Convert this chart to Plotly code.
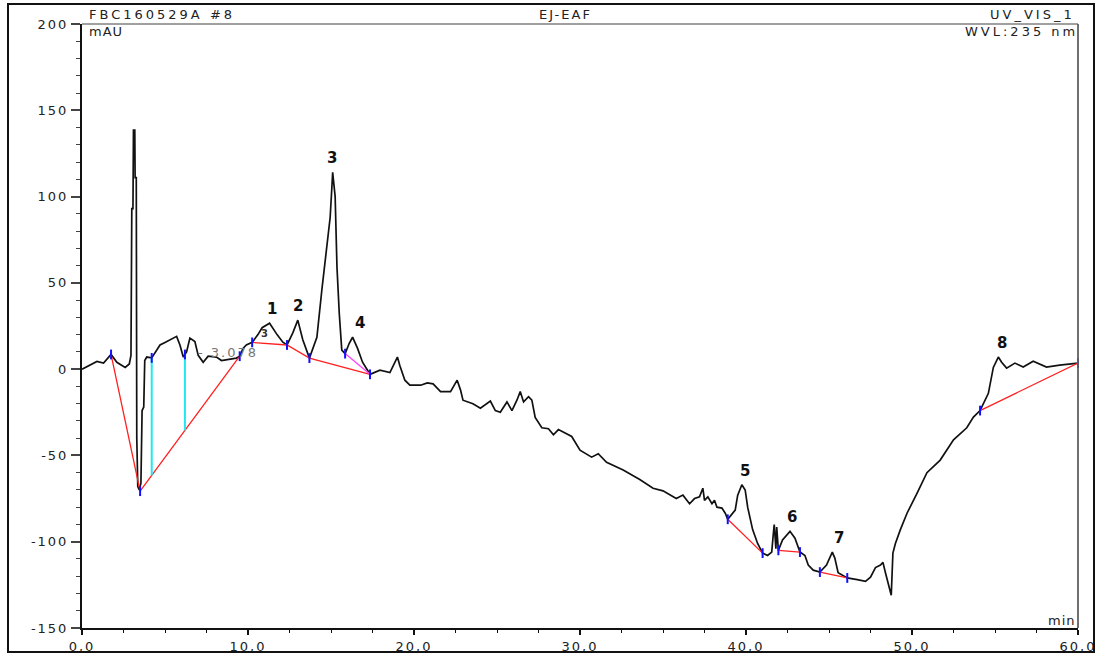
import numpy as np
import plotly.graph_objects as go

# ---------------- data ----------------
time_min = [0.00, 0.50, 0.90, 1.30, 1.75, 2.10, 2.60, 2.85, 2.95, 3.00, 3.07, 3.10, 3.18, 3.20, 3.27,
            3.30, 3.36, 3.45, 3.55, 3.62, 3.72, 3.78, 3.90, 4.20, 4.45, 4.70, 5.00, 5.30, 5.70, 5.90,
            6.10, 6.30, 6.50, 6.80, 7.00, 7.30, 7.60, 8.10, 8.40, 9.30, 9.50, 9.70, 9.90, 10.25, 10.60,
            10.85, 11.30, 11.75, 12.10, 12.35, 12.70, 13.00, 13.30, 13.70, 14.15, 14.45, 14.75, 14.95,
            15.05, 15.10, 15.25, 15.36, 15.50, 15.65, 15.85, 16.10, 16.30, 16.60, 16.90, 17.35, 17.95,
            18.55, 19.00, 19.15, 19.45, 19.75, 20.40, 20.80, 21.15, 21.60, 22.20, 22.60, 22.80, 22.95,
            23.55, 24.00, 24.60, 24.90, 25.20, 25.60, 25.90, 26.20, 26.40, 26.60, 26.90, 27.10, 27.30,
            27.70, 28.10, 28.40, 28.70, 29.50, 30.00, 30.70, 31.10, 31.60, 32.60, 33.60, 34.40, 35.00,
            35.80, 36.20, 36.60, 36.90, 37.20, 37.40, 37.50, 37.70, 37.95, 38.10, 38.25, 38.55, 38.75,
            38.90, 39.35, 39.50, 39.75, 39.95, 40.10, 40.40, 40.70, 41.00, 41.30, 41.55, 41.65, 41.70,
            41.80, 41.85, 41.95, 42.20, 42.65, 42.95, 43.25, 43.55, 43.75, 44.05, 44.45, 44.85, 45.20,
            45.35, 45.55, 46.10, 46.70, 47.20, 47.50, 47.80, 48.10, 48.25, 48.40, 48.55, 48.75, 48.85,
            49.00, 49.30, 49.70, 50.30, 50.90, 51.70, 52.50, 53.30, 53.70, 54.10, 54.60, 54.90, 55.20,
            55.40, 55.70, 56.20, 56.70, 57.30, 58.10, 58.90, 59.50, 60.00]
signal_mau = [0.0, 2.5, 4.5, 3.5, 8.5, 4.0, 1.0, 3.0, 8.0, 93.0, 93.0, 138.5, 138.5, 111.0, 111.0,
              -40.0, -68.0, -70.0, -66.0, -24.0, -22.0, 5.0, 7.0, 6.5, 10.0, 14.0, 15.5, 17.0, 19.0, 14.0,
              7.0, 10.0, 18.0, 16.0, 8.0, 4.0, 7.5, 7.0, 5.0, 6.4, 7.5, 12.0, 14.0, 15.5, 20.0,
              24.0, 26.6, 20.0, 15.6, 14.0, 21.0, 28.4, 17.0, 6.4, 18.5, 46.0, 71.0, 88.0,
              105.0, 114.0, 100.0, 59.0, 32.0, 11.0, 9.0, 15.0, 18.5, 12.0, 4.0, -3.0, -0.6,
              -2.0, 7.0, 2.0, -6.4, -9.3, -9.3, -8.0, -8.5, -13.0, -13.0, -6.4, -12.0, -18.0,
              -20.0, -22.6, -18.5, -24.0, -25.0, -19.0, -24.0, -18.0, -13.0, -19.0, -16.0, -18.0, -28.0,
              -34.0, -34.5, -38.0, -35.0, -39.0, -47.0, -51.0, -49.0, -54.0, -58.5, -64.0, -69.0, -70.5,
              -75.0, -73.0, -78.0, -75.0, -74.0, -69.0, -76.0, -74.0, -78.0, -76.0, -80.0, -80.5, -83.5,
              -87.0, -81.7, -73.0, -67.0, -70.0, -80.0, -93.0, -101.0, -106.6, -108.0, -106.0, -95.0, -90.0,
              -104.0, -91.5, -105.0, -99.0, -94.0, -98.0, -106.0, -108.0, -113.5, -116.5, -117.6, -113.5, -106.0,
              -109.5, -118.0, -121.0, -122.0, -123.0, -120.5, -115.0, -113.5, -112.0, -118.0, -124.0, -131.0, -106.6,
              -101.0, -93.0, -83.5, -72.0, -60.0, -52.7, -41.0, -34.0, -27.8, -24.0, -14.0, 1.0, 7.0,
              4.0, 0.6, 3.5, 1.2, 4.6, 1.2, 2.3, 3.0, 3.5]

# integration baselines (red), segments
baseline_t = [[1.75, 3.50, 9.50], [10.25, 12.35, 13.70, 17.35], [38.90, 41.00],
              [41.95, 43.25], [44.45, 46.10], [54.10, 60.00]]
baseline_v = [[8.5, -70.7, 7.5], [15.5, 14.0, 6.4, -3.0], [-87.0, -106.6],
              [-105.0, -106.0], [-117.6, -121.0], [-24.0, 3.5]]
skim_t = [15.85, 17.35]
skim_v = [9.0, -3.0]
drop_t = [4.20, 6.20]          # cyan drop lines
extra_marks_t = [4.20, 6.20, 15.85]

peak_labels = ["1", "2", "3", "4", "5", "6", "7", "8"]
peak_label_t = [11.45, 13.0, 15.05, 16.75, 39.95, 42.8, 45.6, 55.4]
peak_apex_t = [11.30, 13.00, 15.10, 16.30, 39.75, 42.65, 45.20, 55.20]

x_tickvals = [0, 10, 20, 30, 40, 50, 60]
x_ticktext = ["0,0", "10,0", "20,0", "30,0", "40,0", "50,0", "60,0"]
y_tickvals = [-150, -100, -50, 0, 50, 100, 150, 200]
y_ticktext = ["-150", "-100", "-50", "0", "50", "100", "150", "200"]

# ---------------- figure ----------------
W, H = 1101, 657
L, R, T, B = 82, 1078, 24, 628
FONT = "DejaVu Sans"


def px(xp):
    return (xp - L) / (R - L)


def py(yp):
    return (B - yp) / (B - T)


def wide(s, sp=1.5):
    return '<span style="letter-spacing:%.1fpx">%s</span>' % (sp, s)


fig = go.Figure()

fig.add_trace(go.Scatter(x=time_min, y=signal_mau, mode="lines",
                         line=dict(color="#111111", width=1.7), hoverinfo="skip"))

bx, by = [], []
for ts, vs in zip(baseline_t, baseline_v):
    bx += ts + [None]
    by += vs + [None]
fig.add_trace(go.Scatter(x=bx, y=by, mode="lines", line=dict(color="#ff2020", width=1.3),
                         hoverinfo="skip"))
fig.add_trace(go.Scatter(x=skim_t, y=skim_v, mode="lines", line=dict(color="#ff40ff", width=1.3),
                         hoverinfo="skip"))

b0t = np.array(baseline_t[0])
b0v = np.array(baseline_v[0])
dx, dy = [], []
for t in drop_t:
    top = float(np.interp(t, time_min, signal_mau))
    bot = float(np.interp(t, b0t, b0v))
    dx += [t, t, None]
    dy += [top, bot, None]
fig.add_trace(go.Scatter(x=dx, y=dy, mode="lines", line=dict(color="#20e8f0", width=2),
                         hoverinfo="skip"))

mx, my = [], []
for ts, vs in zip(baseline_t, baseline_v):
    mx += ts
    my += vs
for t in extra_marks_t:
    mx.append(t)
    my.append(float(np.interp(t, time_min, signal_mau)))
fig.add_trace(go.Scatter(x=mx, y=my, mode="markers",
                         marker=dict(symbol="line-ns", size=7, line=dict(color="#1010ff", width=2)),
                         hoverinfo="skip", cliponaxis=False))

annotations = []
for lab, lt, at in zip(peak_labels, peak_label_t, peak_apex_t):
    apex = float(np.interp(at, time_min, signal_mau))
    annotations.append(dict(x=lt, y=apex, xref="x", yref="y", text="<b>%s</b>" % lab,
                            showarrow=False, yanchor="bottom", yshift=3,
                            font=dict(family=FONT, size=15, color="#111111")))
annotations.append(dict(x=px(259), y=py(333), xref="paper", yref="paper", text="<b>3</b>",
                        showarrow=False, font=dict(family=FONT, size=10, color="#333333")))
annotations.append(dict(x=px(196), y=py(352), xref="paper", yref="paper", text=wide("- 3.078", 2),
                        showarrow=False, font=dict(family=FONT, size=13, color="#777777")))

hdr = dict(family=FONT, size=13, color="#222222")
annotations += [
    dict(x=px(87), y=py(15), text=wide("FBC160529A #8", 3), xanchor="left"),
    dict(x=px(565), y=py(15), text=wide("EJ-EAF", 2), xanchor="center"),
    dict(x=px(1077), y=py(15), text=wide("UV_VIS_1", 3), xanchor="right"),
    dict(x=px(87), y=py(31), text=wide("mAU", 1), xanchor="left"),
    dict(x=px(1080), y=py(31), text=wide("WVL:235 nm", 3), xanchor="right"),
    dict(x=px(1078), y=py(620), text=wide("min", 1), xanchor="right"),
]
for a in annotations[-6:]:
    a.update(xref="paper", yref="paper", showarrow=False, yanchor="middle", font=hdr)

shapes = [
    dict(type="rect", xref="paper", yref="paper", x0=px(8), x1=px(1094), y0=py(4), y1=py(652),
         line=dict(color="#111111", width=2)),
    dict(type="line", xref="paper", yref="paper", x0=0, x1=1, y0=1, y1=1,
         line=dict(color="#808080", width=1.5)),
    dict(type="line", xref="paper", yref="paper", x0=1, x1=1, y0=0, y1=1,
         line=dict(color="#606060", width=1.8)),
]

fig.update_layout(
    template="none",
    width=W, height=H, autosize=False,
    margin=dict(l=L, r=W - R, t=T, b=H - B, pad=0),
    paper_bgcolor="white", plot_bgcolor="white",
    showlegend=False,
    annotations=annotations, shapes=shapes,
    font=dict(family=FONT, size=14, color="#222222"),
    xaxis=dict(range=[0, 60], automargin=False, showgrid=False, zeroline=False, showline=True,
               linecolor="#111111", linewidth=2, ticks="outside", ticklen=5, tickwidth=1.5,
               tickcolor="#111111", tickvals=x_tickvals, ticktext=[wide(s, 2) for s in x_ticktext],
               tickfont=dict(family=FONT, size=13, color="#222222"),
               minor=dict(dtick=2.5, ticklen=3, ticks="outside", tickcolor="#111111", tickwidth=1.2)),
    yaxis=dict(range=[-150, 200], automargin=False, showgrid=False, zeroline=False, showline=True,
               linecolor="#111111", linewidth=2, ticks="outside", ticklen=9, tickwidth=1.5,
               tickcolor="#444444", tickvals=y_tickvals, ticktext=[wide(s, 2) for s in y_ticktext],
               tickfont=dict(family=FONT, size=13, color="#222222"),
               minor=dict(dtick=10, ticklen=4, ticks="outside", tickcolor="#444444", tickwidth=1.2)),
)

fig.write_html("out.html")
